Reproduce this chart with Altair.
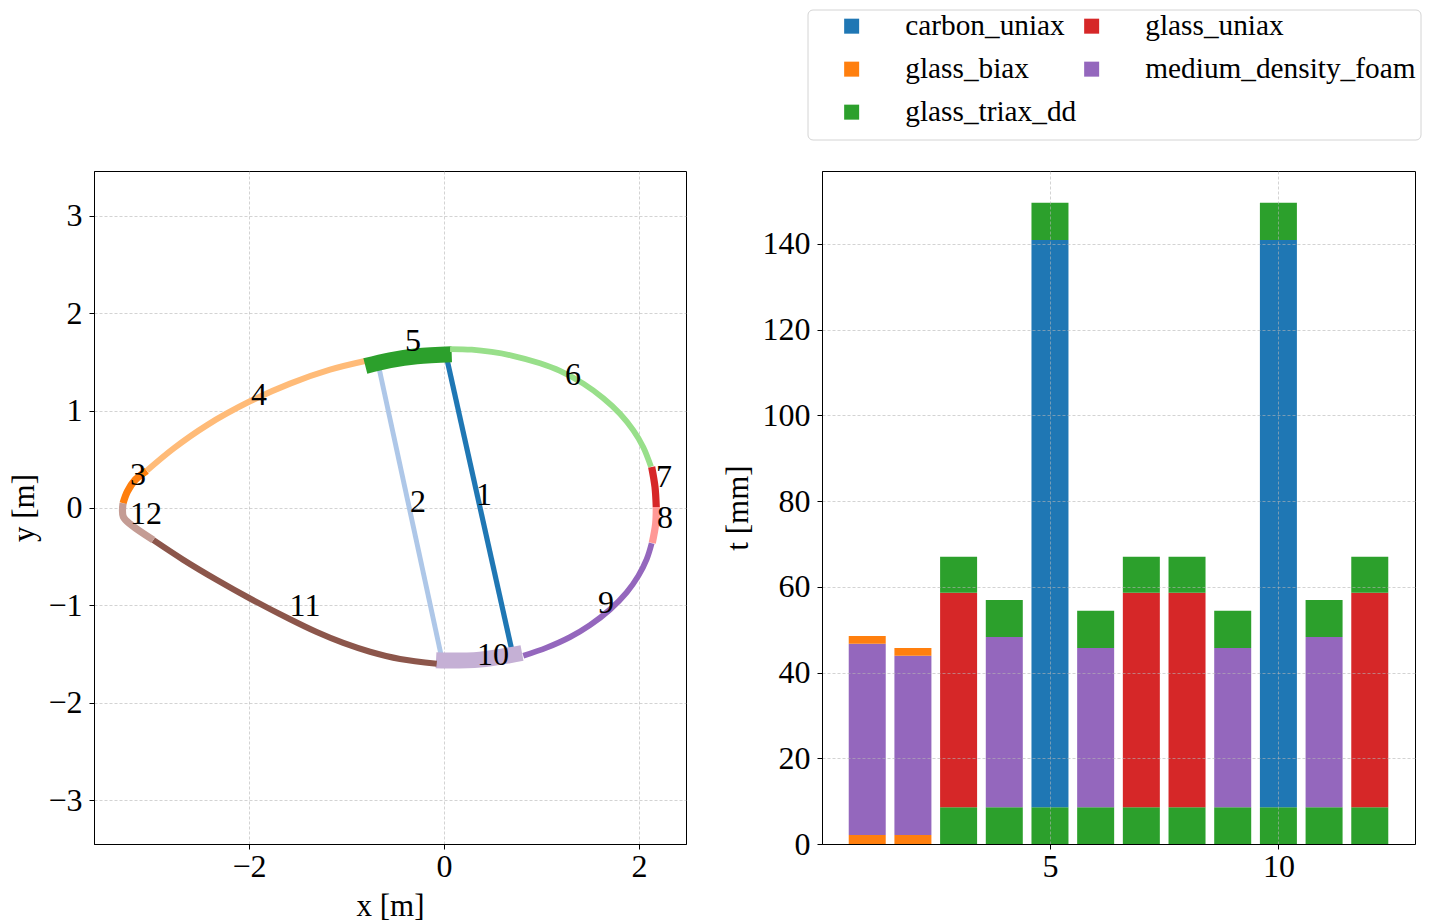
import altair as alt
import pandas as pd

FONT = "Liberation Serif"

# --- left panel: blade section segments (x, y in metres) ---
seg_ids = list(range(1, 13))
seg_colors = ["#1f77b4", "#aec7e8", "#ff7f0e", "#ffbb78", "#2ca02c", "#98df8a",
              "#d62728", "#ff9896", "#9467bd", "#c5b0d5", "#8c564b", "#c49c94"]
seg_widths = [5.2, 4.9, 7.2, 6.1, 16, 5.8, 7.2, 7.2, 5.8, 16, 6.1, 7.2]

seg1_x = [0.014, 0.70]
seg1_y = [1.60, -1.48]
seg2_x = [-0.68, -0.03]
seg2_y = [1.50, -1.51]
seg3_x = [-3.292, -3.248, -3.169, -3.049]
seg3_y = [0.048, 0.167, 0.287, 0.383]
seg4_x = [-3.049, -2.776, -2.434, -1.990, -1.579, -1.169, -0.810]
seg4_y = [0.383, 0.610, 0.849, 1.095, 1.277, 1.420, 1.509]
seg5_x = [-0.807, -0.554, -0.280, 0.079]
seg5_y = [1.458, 1.517, 1.558, 1.578]
seg6_x = [0.062, 0.284, 0.489, 0.694, 0.985, 1.190, 1.429, 1.634, 1.805, 1.942, 2.044, 2.123]
seg6_y = [1.632, 1.625, 1.602, 1.565, 1.486, 1.408, 1.277, 1.127, 0.968, 0.797, 0.624, 0.423]
seg7_x = [2.130, 2.164, 2.177]
seg7_y = [0.421, 0.216, 0.010]
seg8_x = [2.177, 2.171, 2.136]
seg8_y = [0.010, -0.160, -0.359]
seg9_x = [2.130, 2.079, 1.993, 1.874, 1.703, 1.497, 1.292, 1.053, 0.813]
seg9_y = [-0.362, -0.525, -0.697, -0.866, -1.042, -1.203, -1.326, -1.434, -1.518]
seg10_x = [0.800, 0.369, 0.028, -0.082]
seg10_y = [-1.489, -1.557, -1.567, -1.564]
seg11_x = [-2.982, -2.674, -2.331, -1.990, -1.579, -1.306, -1.033, -0.759, -0.451, -0.075]
seg11_y = [-0.329, -0.532, -0.738, -0.929, -1.143, -1.274, -1.386, -1.476, -1.550, -1.599]
seg12_x = [-2.982, -3.203, -3.289, -3.292]
seg12_y = [-0.329, -0.178, -0.092, 0.048]

seg_xs = [seg1_x, seg2_x, seg3_x, seg4_x, seg5_x, seg6_x, seg7_x, seg8_x, seg9_x, seg10_x, seg11_x, seg12_x]
seg_ys = [seg1_y, seg2_y, seg3_y, seg4_y, seg5_y, seg6_y, seg7_y, seg8_y, seg9_y, seg10_y, seg11_y, seg12_y]

label_x = [0.410, -0.267, -3.138, -1.897, -0.318, 1.323, 2.256, 2.267, 1.662, 0.503, -1.426, -3.056]
label_y = [0.130, 0.059, 0.336, 1.157, 1.712, 1.364, 0.315, -0.106, -0.978, -1.511, -1.008, -0.065]

# --- right panel: layer stacks ---
materials = ["carbon_uniax", "glass_biax", "glass_triax_dd", "glass_uniax", "medium_density_foam"]
material_colors = ["#1f77b4", "#ff7f0e", "#2ca02c", "#d62728", "#9467bd"]

stack_a = [("glass_biax", 2.1), ("medium_density_foam", 44.6), ("glass_biax", 1.8)]
stack_b = [("glass_biax", 2.1), ("medium_density_foam", 41.8), ("glass_biax", 1.8)]
stack_c = [("glass_triax_dd", 8.6), ("glass_uniax", 50.0), ("glass_triax_dd", 8.4)]
stack_d = [("glass_triax_dd", 8.6), ("medium_density_foam", 39.7), ("glass_triax_dd", 8.6)]
stack_e = [("glass_triax_dd", 8.6), ("carbon_uniax", 132.3), ("glass_triax_dd", 8.7)]
stack_f = [("glass_triax_dd", 8.6), ("medium_density_foam", 37.1), ("glass_triax_dd", 8.7)]
stacks = [stack_a, stack_b, stack_c, stack_d, stack_e, stack_f,
          stack_c, stack_c, stack_f, stack_e, stack_d, stack_c]

bar_rows = []
for pos, stack in zip(seg_ids, stacks):
    base = 0.0
    for material, thick in stack:
        bar_rows.append({"pos": pos, "material": material, "y0": base, "y1": base + thick})
        base += thick
bars_df = pd.DataFrame(bar_rows)

GRID = dict(grid=True, gridColor="#b5b5b5", gridDash=[3, 2], gridWidth=0.8, gridOpacity=0.75)
AX = dict(labelFont=FONT, labelFontSize=32, titleFont=FONT, titleFontSize=31, titleFontWeight="normal",
          labelColor="black", titleColor="black", domainColor="black", tickColor="black",
          tickSize=5, tickWidth=1, domainWidth=1, **GRID)

x_l = alt.X("x:Q", scale=alt.Scale(domain=[-3.59, 2.482], nice=False, zero=False),
            axis=alt.Axis(title="x [m]", values=[-2, 0, 2], format="d", titlePadding=9, labelPadding=2, **AX))
y_l = alt.Y("y:Q", scale=alt.Scale(domain=[-3.45, 3.46], nice=False, zero=False),
            axis=alt.Axis(title="y [m]", values=[-3, -2, -1, 0, 1, 2, 3], format="d", titlePadding=7, labelPadding=7, **AX))

one_row = pd.DataFrame({"a": [0]})

# invisible spacer so both panels share the same top extent
top_spacer = alt.Chart(one_row).mark_rect(opacity=0).encode(
    x=alt.value(0), x2=alt.value(1), y=alt.value(-162), y2=alt.value(-161))

line_layers = []
for sid, color, w, xs, ys in zip(seg_ids, seg_colors, seg_widths, seg_xs, seg_ys):
    df = pd.DataFrame({"x": xs, "y": ys, "o": list(range(len(xs)))})
    line_layers.append(
        alt.Chart(df).mark_line(color=color, strokeWidth=w, strokeCap="butt",
                                interpolate="linear" if sid <= 2 else "catmull-rom")
        .encode(x=x_l, y=y_l, order="o:Q")
    )

labels_df = pd.DataFrame({"x": label_x, "y": label_y, "label": [str(i) for i in seg_ids]})
labels = alt.Chart(labels_df).mark_text(font=FONT, fontSize=32, color="black", align="center",
                                        baseline="middle").encode(x=x_l, y=y_l, text="label:N")

left = alt.layer(top_spacer, *line_layers, labels).properties(width=592, height=673)

legend_box = alt.Chart(one_row).mark_rect(filled=False, stroke="#d4d4d4", strokeWidth=1, strokeJoin="round",
                                          cornerRadius=5).encode(
    x=alt.value(-14), x2=alt.value(599), y=alt.value(-161), y2=alt.value(-31))

bars = alt.Chart(bars_df).mark_bar(size=37).encode(
    x=alt.X("pos:Q", scale=alt.Scale(domain=[0.01, 12.99], nice=False, zero=False, padding=0),
            axis=alt.Axis(title=None, values=[5, 10], format="d", zindex=1, labelPadding=2, **AX)),
    y=alt.Y("y0:Q", scale=alt.Scale(domain=[0, 157], nice=False),
            axis=alt.Axis(title="t [mm]", values=list(range(0, 160, 20)), format="d", zindex=1,
                          titlePadding=8, labelPadding=7, **AX)),
    y2="y1:Q",
    color=alt.Color("material:N", scale=alt.Scale(domain=materials, range=material_colors),
                    legend=alt.Legend(title=None, orient="none", legendX=743, legendY=-159.5, columns=2,
                                      symbolType="square", symbolSize=225, symbolStrokeWidth=0,
                                      symbolOpacity=1,
                                      labelFont=FONT, labelFontSize=29.3, labelColor="black", labelOffset=39,
                                      labelLimit=400, rowPadding=13, columnPadding=-6.5, padding=0)),
)

right = alt.layer(legend_box, bars).properties(width=593, height=673)

chart = alt.hconcat(left, right, spacing=34).properties(padding=0).configure_view(stroke="black", strokeWidth=1)

chart.save("out.html", embed_options={"renderer": "svg", "actions": False})
